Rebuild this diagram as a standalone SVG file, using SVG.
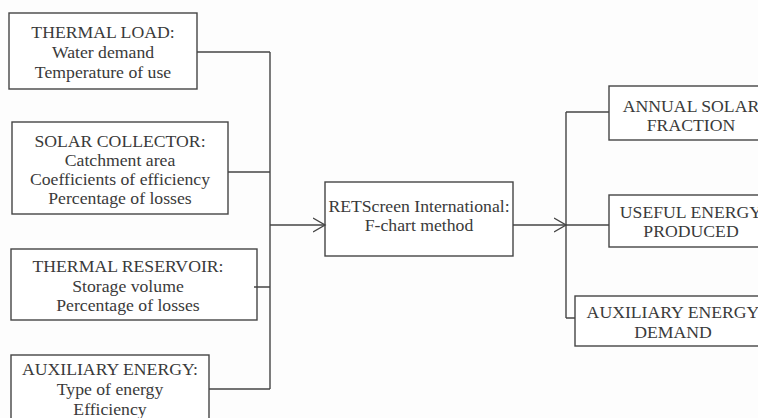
<svg xmlns="http://www.w3.org/2000/svg" width="758" height="418" viewBox="0 0 758 418">
<defs>
<style>
.box{fill:#fff;stroke:#454545;stroke-width:1.4}
text{font-family:'Liberation Serif','Tinos','Times New Roman','DejaVu Serif',serif;font-size:17.7px;fill:#3a3a3a;text-anchor:middle}
.c{fill:none;stroke:#454545;stroke-width:1.4}
</style>
<marker id="ah" markerWidth="14" markerHeight="16" refX="12" refY="8" orient="auto" markerUnits="userSpaceOnUse">
<path d="M0,1 L12,8 L0,15" fill="none" stroke="#454545" stroke-width="1.4"/>
</marker>
</defs>
<rect width="758" height="418" fill="#fdfdfd"/>
<g id="thermal-load">
<rect class="box" x="9" y="13" width="188" height="76"/>
<text x="103" y="38">THERMAL LOAD:</text>
<text x="103" y="58">Water demand</text>
<text x="103" y="78">Temperature of use</text>
</g>
<g id="solar-collector">
<rect class="box" x="12" y="122" width="216" height="92"/>
<text x="120" y="147">SOLAR COLLECTOR:</text>
<text x="120" y="166">Catchment area</text>
<text x="120" y="185">Coefficients of efficiency</text>
<text x="120" y="204">Percentage of losses</text>
</g>
<g id="thermal-reservoir">
<rect class="box" x="11" y="249" width="246" height="71"/>
<text x="128" y="272">THERMAL RESERVOIR:</text>
<text x="128" y="292">Storage volume</text>
<text x="128" y="311">Percentage of losses</text>
</g>
<g id="auxiliary-energy">
<rect class="box" x="11" y="355" width="198" height="80"/>
<text x="110" y="375">AUXILIARY ENERGY:</text>
<text x="110" y="395">Type of energy</text>
<text x="110" y="415">Efficiency</text>
</g>
<g id="retscreen">
<rect class="box" x="325" y="182" width="188" height="74"/>
<text x="419" y="212">RETScreen International:</text>
<text x="419" y="231">F-chart method</text>
</g>
<g id="annual-solar-fraction">
<rect class="box" x="609" y="86" width="164" height="54"/>
<text x="691" y="112">ANNUAL SOLAR</text>
<text x="691" y="131">FRACTION</text>
</g>
<g id="useful-energy">
<rect class="box" x="609" y="195" width="164" height="52"/>
<text x="691" y="218">USEFUL ENERGY</text>
<text x="691" y="237">PRODUCED</text>
</g>
<g id="auxiliary-demand">
<rect class="box" x="575" y="296" width="196" height="50"/>
<text x="673" y="318">AUXILIARY ENERGY</text>
<text x="673" y="338">DEMAND</text>
</g>
<g id="connectors">
<path class="c" d="M197,52 H270 M228,172 H270 M254,287 H270 M209,389 H270 M270,52 V389"/>
<path class="c" d="M270,225 H325" marker-end="url(#ah)"/>
<path class="c" d="M513,225 H566" marker-end="url(#ah)"/>
<path class="c" d="M566,112 V318 M566,112 H609 M566,225 H609 M566,318 H575"/>
</g>
</svg>
